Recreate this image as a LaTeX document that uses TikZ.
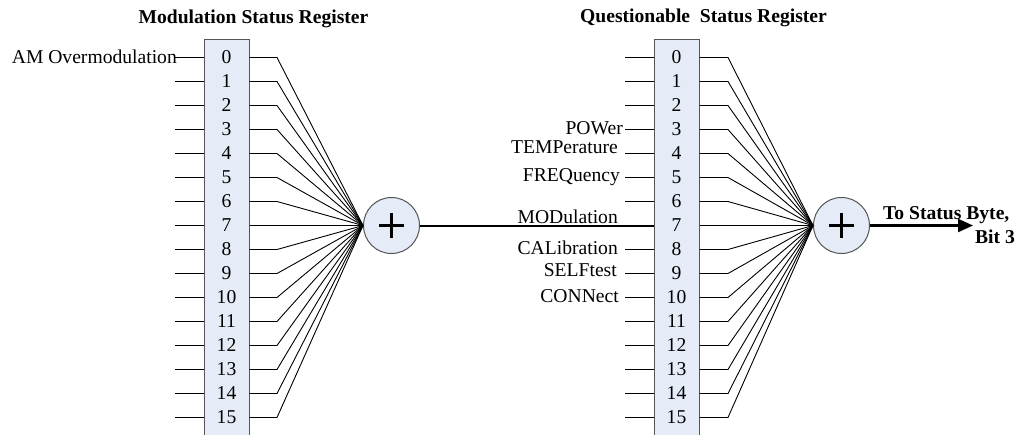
\documentclass[tikz,border=0pt]{standalone}
\usepackage{fontspec}
\setmainfont{Liberation Serif}
\usetikzlibrary{arrows.meta}
\definecolor{regfill}{RGB}{230,236,247}
\definecolor{regline}{RGB}{85,85,85}
\begin{document}
\begin{tikzpicture}[x=1pt,y=-1pt,
  font=\fontsize{19.6}{22}\selectfont,
  regbox/.style={draw=regline, fill=regfill, line width=1pt, minimum width=45pt, minimum height=411pt, inner sep=0pt},
  sumnode/.style={circle, draw=regline, fill=regfill, line width=1pt, minimum size=56pt, inner sep=0pt},
  bitnum/.style={inner sep=0pt},
  wire/.style={line width=0.9pt, draw=black},
  thickwire/.style={line width=2pt, draw=black},
  plussign/.style={line width=2.5pt, draw=black},
  outarrow/.style={line width=2.2pt, draw=black, -{Triangle[length=15pt,width=13pt]}},
  lbl/.style={inner sep=0pt, anchor=base east},
  ttl/.style={inner sep=0pt, anchor=base, font=\fontsize{19.6}{22}\selectfont\bfseries}]
\useasboundingbox (0,0) rectangle (1023,434);

% titles
\node[ttl] (T1) at (253.5,23) {Modulation Status Register};
\node[ttl] (T2) at (703.5,22.5) {Questionable\ \ Status Register};

% registers and summing nodes
\node[regbox] (LR) at (226.5,244.5) {};
\node[regbox] (RR) at (676.5,244.5) {};
\node[sumnode] (LS) at (391.5,225.5) {};
\node[sumnode] (RS) at (841.5,225.5) {};
\draw[plussign] ([xshift=-12.5pt]LS.center) -- ([xshift=12.5pt]LS.center);
\draw[plussign] ([yshift=-12.5pt]LS.center) -- ([yshift=12.5pt]LS.center);
\draw[plussign] ([xshift=-12.5pt]RS.center) -- ([xshift=12.5pt]RS.center);
\draw[plussign] ([yshift=-12.5pt]RS.center) -- ([yshift=12.5pt]RS.center);

\foreach \i in {0,...,15} {
  \pgfmathsetmacro\yy{57.5+24*\i}
  \node[bitnum] (Lb\i) at (226.5,\yy) {\i};
  \node[bitnum] (Rb\i) at (676.5,\yy) {\i};
  \coordinate (Lin\i) at (175,\yy);
  \coordinate (Lout\i) at (277,\yy);
  \coordinate (Rin\i) at (625,\yy);
  \coordinate (Rout\i) at (728,\yy);
  \draw[wire] (Lin\i) -- (Lin\i -| LR.west);
  \draw[wire] (LR.east |- Lout\i) -- (Lout\i) -- (LS.west);
  \draw[wire] (Rin\i) -- (Rin\i -| RR.west);
  \draw[wire] (RR.east |- Rout\i) -- (Rout\i) -- (RS.west);
}

% connection between registers
\draw[thickwire] (LS.east) -- (LS.east -| RR.west);

% output arrow
\coordinate (tip) at (973,225.5);
\draw[outarrow] (RS.east) -- (tip);
\node[inner sep=0pt, anchor=base west, font=\fontsize{19.6}{22}\selectfont\bfseries] (out1) at (883,219) {To Status Byte,};
\node[inner sep=0pt, anchor=base east, font=\fontsize{19.6}{22}\selectfont\bfseries] (out2) at (1015,243) {Bit 3};

% labels
\node[lbl] (am) at (177,63) {AM Overmodulation};
\node[lbl] (pow) at (623,134) {POWer};
\node[lbl] (temp) at (618,153) {TEMPerature};
\node[lbl] (freq) at (620,181) {FREQuency};
\node[lbl] (mod) at (618,223) {MODulation};
\node[lbl] (cal) at (618,254) {CALibration};
\node[lbl] (self) at (617,276) {SELFtest};
\node[lbl] (conn) at (619,302) {CONNect};
\end{tikzpicture}
\end{document}
